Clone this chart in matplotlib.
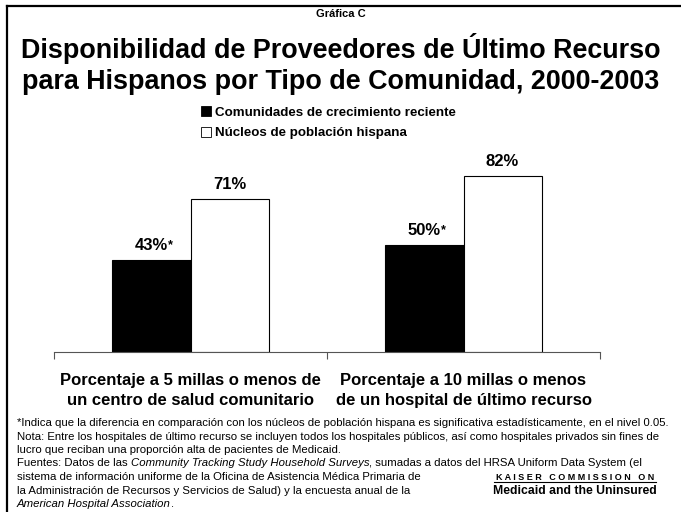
import matplotlib.pyplot as plt
from matplotlib.patches import Patch
from matplotlib.lines import Line2D

plt.rcParams['font.family'] = ['Liberation Sans', 'DejaVu Sans']

# Data
categories = ['Porcentaje a 5 millas o menos de\nun centro de salud comunitario',
              'Porcentaje a 10 millas o menos\nde un hospital de último recurso']
series_names = ['Comunidades de crecimiento reciente', 'Núcleos de población hispana']
reciente = [43, 50]
nucleos = [71, 82]
significant = [True, True]

fig = plt.figure(figsize=(6.81, 5.12), dpi=100)
ax = fig.add_axes([54 / 681, 160 / 512, 546 / 681, 215 / 512])

w = 0.286
x = [0, 1]
b1 = ax.bar([i - w / 2 for i in x], reciente, w, color='black', edgecolor='black', linewidth=0.8)
b2 = ax.bar([i + w / 2 for i in x], nucleos, w, color='white', edgecolor='black', linewidth=0.8)

# value labels
for rect, v, sig in zip(b1, reciente, significant):
    t = ax.annotate(f'{v}%', (rect.get_x() + rect.get_width() / 2, v), xytext=(0, 5),
                    textcoords='offset points', ha='center', va='bottom',
                    fontsize=12, fontweight='bold')
    if sig:
        ax.annotate('*', xy=(1, 0.5), xycoords=t, ha='left', va='center',
                    fontsize=9, fontweight='bold')
for rect, v in zip(b2, nucleos):
    ax.annotate(f'{v}%', (rect.get_x() + rect.get_width() / 2, v), xytext=(0, 5),
                textcoords='offset points', ha='center', va='bottom',
                fontsize=12, fontweight='bold')

ax.set_xlim(-0.5, 1.5)
ax.set_ylim(0, 100)
for s in ['top', 'right', 'left']:
    ax.spines[s].set_visible(False)
ax.spines['bottom'].set_color('#555555')
ax.spines['bottom'].set_linewidth(0.8)
ax.set_yticks([])
ax.set_xticks([-0.5, 0.5, 1.5])
ax.set_xticklabels([])
ax.tick_params(axis='x', which='major', direction='out', length=5, color='#555555', width=0.8)
ax.set_xticks(x, minor=True)
ax.set_xticklabels(categories, minor=True, fontsize=12, fontweight='bold', linespacing=1.4)
ax.tick_params(axis='x', which='minor', length=0, pad=15)

# titles
fig.text(0.5, 1 - 14 / 512, 'Gráfica C', ha='center', va='center', fontsize=8, fontweight='bold')
fig.text(0.5, 1 - 64 / 512, 'Disponibilidad de Proveedores de Último Recurso\npara Hispanos por Tipo de Comunidad, 2000-2003',
         ha='center', va='center', fontsize=19.4, fontweight='bold', linespacing=1.22)

# legend
handles = [Patch(facecolor='black', edgecolor='black', linewidth=0.6),
           Patch(facecolor='white', edgecolor='black', linewidth=0.6)]
fig.legend(handles, series_names, loc='upper left', bbox_to_anchor=(201 / 681, 1 - 106 / 512),
           frameon=False, prop={'weight': 'bold', 'size': 9.6}, handlelength=0.75, handleheight=0.75,
           handletextpad=0.3, labelspacing=0.62, borderaxespad=0, borderpad=0)

# border
fig.add_artist(Line2D([7 / 681, 1], [1 - 6 / 512, 1 - 6 / 512], color='black', lw=1.6))
fig.add_artist(Line2D([7 / 681, 7 / 681], [0, 1 - 6 / 512], color='black', lw=1.6))

# footnotes (italic pieces chained onto the previous piece)
fs = 8.2
x0 = 17 / 681
lines = [
    [('*Indica que la diferencia en comparación con los núcleos de población hispana es significativa estadísticamente, en el nivel 0.05.', 'normal')],
    [('Nota: Entre los hospitales de último recurso se incluyen todos los hospitales públicos, así como hospitales privados sin fines de', 'normal')],
    [('lucro que reciban una proporción alta de pacientes de Medicaid.', 'normal')],
    [('Fuentes: Datos de las ', 'normal'), ('Community Tracking Study Household Surveys', 'italic'),
     (', sumadas a datos del HRSA Uniform Data System (el', 'normal')],
    [('sistema de información uniforme de la Oficina de Asistencia Médica Primaria de', 'normal')],
    [('la Administración de Recursos y Servicios de Salud) y la encuesta anual de la', 'normal')],
    [('American Hospital Association', 'italic'), ('.', 'normal')],
]
y = 423
for parts in lines:
    prev = None
    for txt, style in parts:
        if prev is None:
            prev = fig.text(x0, 1 - y / 512, txt, ha='left', va='center', fontsize=fs, style=style)
        else:
            prev = ax.annotate(txt, xy=(1, 0), xycoords=prev, ha='left', va='bottom',
                               fontsize=fs, style=style, annotation_clip=False)
    y += 13.5

# logo
fig.text(575 / 681, 1 - 477 / 512, 'K A I S E R   C O M M I S S I O N   O N', ha='center', va='center',
         fontsize=6.5, fontweight='bold')
fig.add_artist(Line2D([494 / 681, 656 / 681], [1 - 482 / 512, 1 - 482 / 512], color='black', lw=0.8))
fig.text(575 / 681, 1 - 491 / 512, 'Medicaid and the Uninsured', ha='center', va='center',
         fontsize=8.8, fontweight='heavy')

fig.savefig('out.png', dpi=100)
